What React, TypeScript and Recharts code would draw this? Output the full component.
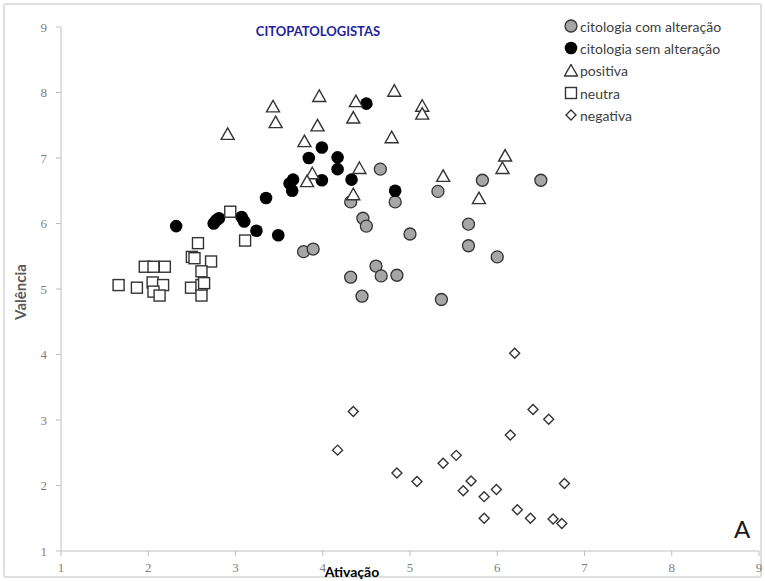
import { ScatterChart, Scatter, XAxis, YAxis } from 'recharts';

const AXIS_TICKS = [1, 2, 3, 4, 5, 6, 7, 8, 9];

// each point is [ativação, valência]
const comAlteracao = [
  [3.78, 5.57], [3.89, 5.61], [4.66, 6.83], [4.32, 6.33], [4.83, 6.33],
  [5.32, 6.49], [4.46, 6.08], [4.5, 5.96], [5.0, 5.84], [5.67, 5.99],
  [5.67, 5.66], [4.61, 5.35], [4.32, 5.18], [4.67, 5.2], [4.85, 5.21],
  [4.45, 4.89], [5.36, 4.84], [5.83, 6.66], [6.5, 6.66], [6.0, 5.49],
];

const semAlteracao = [
  [2.32, 5.96], [2.75, 6.0], [2.78, 6.05], [2.81, 6.08], [3.07, 6.1],
  [3.1, 6.03], [3.24, 5.89], [3.49, 5.82], [3.35, 6.39], [3.62, 6.61],
  [3.66, 6.67], [3.65, 6.5], [3.84, 7.0], [3.99, 7.16], [4.17, 7.01],
  [4.17, 6.83], [3.99, 6.66], [4.33, 6.67], [4.83, 6.5], [4.5, 7.83],
];

const positiva = [
  [2.91, 7.36], [3.43, 7.78], [3.46, 7.54], [3.96, 7.94], [4.38, 7.86],
  [4.82, 8.02], [5.14, 7.79], [5.14, 7.67], [4.35, 7.61], [3.94, 7.49],
  [4.79, 7.31], [3.79, 7.25], [4.42, 6.84], [3.88, 6.76], [3.82, 6.64],
  [5.38, 6.72], [4.35, 6.44], [6.09, 7.03], [6.06, 6.84], [5.79, 6.38],
];

const neutra = [
  [2.94, 6.18], [3.11, 5.74], [2.57, 5.7], [2.5, 5.49], [2.53, 5.47],
  [2.72, 5.42], [2.61, 5.27], [1.96, 5.34], [2.06, 5.34], [2.19, 5.34],
  [1.66, 5.06], [1.87, 5.02], [2.05, 5.1], [2.17, 5.06], [2.06, 4.96],
  [2.13, 4.9], [2.49, 5.02], [2.61, 5.06], [2.64, 5.09], [2.61, 4.9],
];

const negativa = [
  [4.35, 3.13], [4.17, 2.54], [4.85, 2.19], [5.08, 2.06], [5.38, 2.34],
  [5.53, 2.46], [5.7, 2.07], [5.61, 1.92], [5.85, 1.83], [5.85, 1.5],
  [5.99, 1.94], [6.2, 4.02], [6.41, 3.16], [6.59, 3.01], [6.15, 2.77],
  [6.77, 2.03], [6.23, 1.63], [6.38, 1.5], [6.64, 1.49], [6.74, 1.42],
];

const toPoints = (pairs: number[][]) => pairs.map(([x, y]) => ({ x, y }));

const INK = '#333333';
const SANS = 'Lato, "Open Sans", sans-serif';

const GrayDot = (p: any) => (
  <circle cx={p.cx} cy={p.cy} r={6} fill="#a6a6a6" stroke={INK} strokeWidth={1.3} />
);
const BlackDot = (p: any) => <circle cx={p.cx} cy={p.cy} r={6.3} fill="#000" />;
const Triangle = (p: any) => (
  <polygon
    points={`${p.cx},${p.cy - 6.5} ${p.cx + 6.5},${p.cy + 5} ${p.cx - 6.5},${p.cy + 5}`}
    fill="#fff"
    stroke={INK}
    strokeWidth={1.4}
  />
);
const Square = (p: any) => (
  <rect x={p.cx - 5.5} y={p.cy - 5.5} width={11} height={11} fill="#fff" stroke={INK} strokeWidth={1.4} />
);
const Diamond = (p: any) => (
  <polygon
    points={`${p.cx},${p.cy - 5} ${p.cx + 5},${p.cy} ${p.cx},${p.cy + 5} ${p.cx - 5},${p.cy}`}
    fill="#fff"
    stroke={INK}
    strokeWidth={1.4}
  />
);

const legendItems = [
  { label: 'citologia com alteração', Shape: GrayDot },
  { label: 'citologia sem alteração', Shape: BlackDot },
  { label: 'positiva', Shape: Triangle },
  { label: 'neutra', Shape: Square },
  { label: 'negativa', Shape: Diamond },
];

const tickStyle = { fill: '#7f7f7f', fontSize: 13, fontFamily: '"Liberation Serif", serif' };

export default function App() {
  return (
    <div style={{ position: 'absolute', left: 0, top: 0, width: 765, height: 581, background: '#fff' }}>
      <div
        style={{
          position: 'absolute',
          left: 3,
          top: 3,
          width: 755,
          height: 571,
          border: '2px solid #dedede',
          borderRadius: 3,
        }}
      />
      <ScatterChart width={765} height={581} margin={{ top: 27, right: 6, bottom: 6, left: 21 }}>
        <XAxis
          type="number"
          dataKey="x"
          domain={[1, 9]}
          ticks={AXIS_TICKS}
          height={24}
          tick={tickStyle}
          tickSize={5}
          tickMargin={7}
          stroke="#bfbfbf"
          allowDataOverflow
        />
        <YAxis
          type="number"
          dataKey="y"
          domain={[1, 9]}
          ticks={AXIS_TICKS}
          width={40}
          tick={tickStyle}
          tickSize={5}
          tickMargin={9}
          stroke="#bfbfbf"
          allowDataOverflow
        />
        <Scatter data={toPoints(comAlteracao)} shape={GrayDot} isAnimationActive={false} />
        <Scatter data={toPoints(semAlteracao)} shape={BlackDot} isAnimationActive={false} />
        <Scatter data={toPoints(positiva)} shape={Triangle} isAnimationActive={false} />
        <Scatter data={toPoints(neutra)} shape={Square} isAnimationActive={false} />
        <Scatter data={toPoints(negativa)} shape={Diamond} isAnimationActive={false} />
        <text
          x={318}
          y={31}
          textAnchor="middle"
          dominantBaseline="central"
          fill="#1f1f9e"
          fontFamily={SANS}
          fontWeight={700}
          fontSize={13}
        >
          CITOPATOLOGISTAS
        </text>
        <text
          x={352}
          y={571}
          textAnchor="middle"
          dominantBaseline="central"
          fill="#000"
          fontFamily={SANS}
          fontWeight={700}
          fontSize={14}
        >
          Ativação
        </text>
        <text
          x={20}
          y={292}
          transform="rotate(-90 20 292)"
          textAnchor="middle"
          dominantBaseline="central"
          fill="#595959"
          fontFamily={SANS}
          fontWeight={700}
          fontSize={15}
        >
          Valência
        </text>
        <text x={742} y={528} textAnchor="middle" dominantBaseline="central" fill="#1a1a1a" fontFamily={SANS} fontSize={24}>
          A
        </text>
      </ScatterChart>
      <div style={{ position: 'absolute', left: 564, top: 15, fontFamily: SANS, fontSize: 14, color: '#404040' }}>
        {legendItems.map(({ label, Shape }) => (
          <div key={label} style={{ display: 'flex', alignItems: 'center', height: 22.3 }}>
            <svg width={14} height={14} style={{ marginRight: 2 }}>
              <Shape cx={7} cy={7} />
            </svg>
            <span>{label}</span>
          </div>
        ))}
      </div>
    </div>
  );
}
